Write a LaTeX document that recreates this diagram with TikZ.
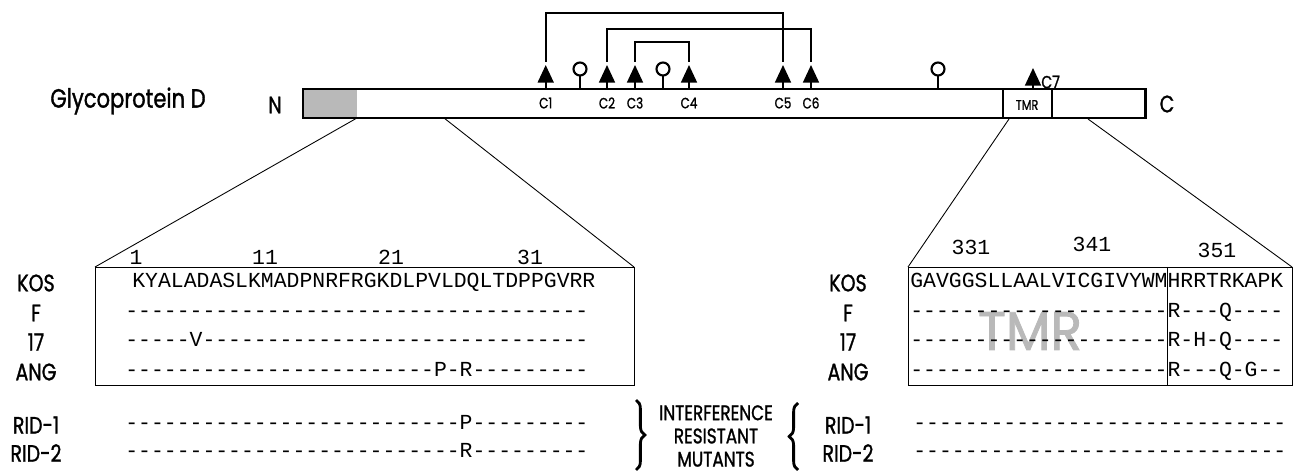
\documentclass[tikz,border=0pt]{standalone}
\usepackage{fontspec}
\setmonofont{Liberation Mono}
\newfontfamily\labelfont[FakeStretch=0.8, FakeBold=1.2]{Poppins}
\newfontfamily\markfont[FakeStretch=0.95, FakeBold=1.5]{Poppins}
\usetikzlibrary{arrows.meta,decorations.pathreplacing}

\tikzset{
  bond/.style={line width=1.2pt},
  cys/.style={line width=1.2pt, -{Triangle[length=10pt,width=9pt]}},
  zoomline/.style={line width=0.5pt},
  rowlabel/.style={font=\labelfont\fontsize{13.5}{15}\selectfont, inner sep=0pt},
  cyslabel/.style={font=\labelfont\fontsize{8.5}{10}\selectfont, inner sep=0pt},
  seq/.style={font=\ttfamily\fontsize{12.2}{14}\selectfont, anchor=base west, inner sep=0pt},
  resnum/.style={font=\ttfamily\fontsize{12.2}{14}\selectfont, inner sep=0pt},
  mutbrace/.style={line width=1.6pt, decorate, decoration={brace, amplitude=5pt}},
}

\begin{document}
\begin{tikzpicture}[x=0.02cm, y=-0.02cm]
  \useasboundingbox (0,0) rectangle (1294,472);

  % Glycoprotein D bar
  \node[font=\labelfont\fontsize{15}{17}\selectfont, inner sep=0pt] (gd) at (128,101) {Glycoprotein D};
  \node[rowlabel] (nterm) at (275,105) {N};
  \node[rowlabel] (cterm) at (1167,104) {C};
  \fill[gray!55] (303,89) rectangle (357,118);
  \draw[line width=1.7pt] (303,89) rectangle (1145,118);
  \draw[line width=1.5pt] (1003,89) -- (1003,118);
  \draw[line width=1.1pt] (1052,89) -- (1052,118);
  \node[font=\labelfont\fontsize{8}{9}\selectfont, inner sep=0pt] (tmrbox) at (1027,105) {TMR};

  % Cysteines and disulfide bonds
  \foreach \x/\c in {545.7/1, 607/2, 635/3, 689/4, 783/5, 811/6} {
    \coordinate (c\c) at (\x,62);
    \draw[cys] (\x,90) -- (\x,65);
    \node[cyslabel] (lc\c) at (\x,103) {C\c};
  }
  \draw[cys] (1033,89) -- (1033,68);
  \node[cyslabel, font=\labelfont\fontsize{10}{12}\selectfont, anchor=west] (lc7) at (1041,82) {C7};
  \coordinate (h1) at (0,13);
  \coordinate (h2) at (0,29);
  \coordinate (h3) at (0,42);
  \draw[bond] (c1) -- (c1 |- h1) -- (c5 |- h1) -- (c5);
  \draw[bond] (c2) -- (c2 |- h2) -- (c6 |- h2) -- (c6);
  \draw[bond] (c3) -- (c3 |- h3) -- (c4 |- h3) -- (c4);

  % Glycosylation sites
  \foreach \x in {580, 663, 938} {
    \draw[bond] (\x,90) -- (\x,75.5);
    \draw[bond] (\x,69) circle[radius=3.7pt];
  }

  % Expanded regions
  \coordinate (sigA) at (357,118);
  \coordinate (sigB) at (444,118);
  \coordinate (tmA) at (1009,119);
  \coordinate (tmB) at (1088,119);
  \draw[zoomline] (95,267) rectangle (634,385);
  \draw[zoomline] (908,267) rectangle (1292,385);
  \draw[zoomline] (1167,267) -- (1167,385);
  \draw[zoomline] (sigA) -- (95,267);
  \draw[zoomline] (sigB) -- (634,267);
  \draw[zoomline] (tmA) -- (908,267);
  \draw[zoomline] (tmB) -- (1292,267);

  \node[font=\markfont\fontsize{31}{31}\selectfont, text=gray!55] (tmrmark) at (1030,331) {TMR};

  % Residue numbers
  \node[resnum] (n1) at (136,257) {1};
  \node[resnum] (n11) at (265,257) {11};
  \node[resnum] (n21) at (391,257) {21};
  \node[resnum] (n31) at (530,257) {31};
  \node[resnum] (n331) at (971,247) {331};
  \node[resnum] (n341) at (1092,244) {341};
  \node[resnum] (n351) at (1217,250) {351};

  % Strain labels
  \foreach \lab/\y/\nm in {KOS/283/kos, F/313/f, 17/342/s17, ANG/372/ang, RID-1/425/ridA, RID-2/453/ridB} {
    \node[rowlabel] (l\nm) at (36,\y) {\lab};
    \node[rowlabel] (r\nm) at (848,\y) {\lab};
  }

  % Sequences
  \node[seq] (seqL) at (132,288) {KYALADASLKMADPNRFRGKDLPVLDQLTDPPGVRR};
  \node[seq] (fL) at (125,318) {------------------------------------};
  \node[seq] (s17L) at (125,347) {-----V------------------------------};
  \node[seq] (angL) at (125,377) {------------------------P-R---------};
  \node[seq] (ridAL) at (125,430) {--------------------------P---------};
  \node[seq] (ridBL) at (125,458) {--------------------------R---------};

  \node[seq] (seqR) at (910,288) {GAVGGSLLAALVICGIVYWMHRRTRKAPK};
  \node[seq] (fR) at (910,318) {--------------------R---Q----};
  \node[seq] (s17R) at (910,347) {--------------------R-H-Q----};
  \node[seq] (angR) at (910,377) {--------------------R---Q-G--};
  \node[seq] (ridAR) at (913,430) {-----------------------------};
  \node[seq] (ridBR) at (913,458) {-----------------------------};

  % Interference resistant mutants
  \draw[mutbrace] (636,400) -- (636,470);
  \draw[mutbrace] (798,470) -- (798,403);
  \node[font=\labelfont\fontsize{12}{13.2}\selectfont, align=center, inner sep=0pt] (irm) at (716,436) {INTERFERENCE\\RESISTANT\\MUTANTS};
\end{tikzpicture}
\end{document}
